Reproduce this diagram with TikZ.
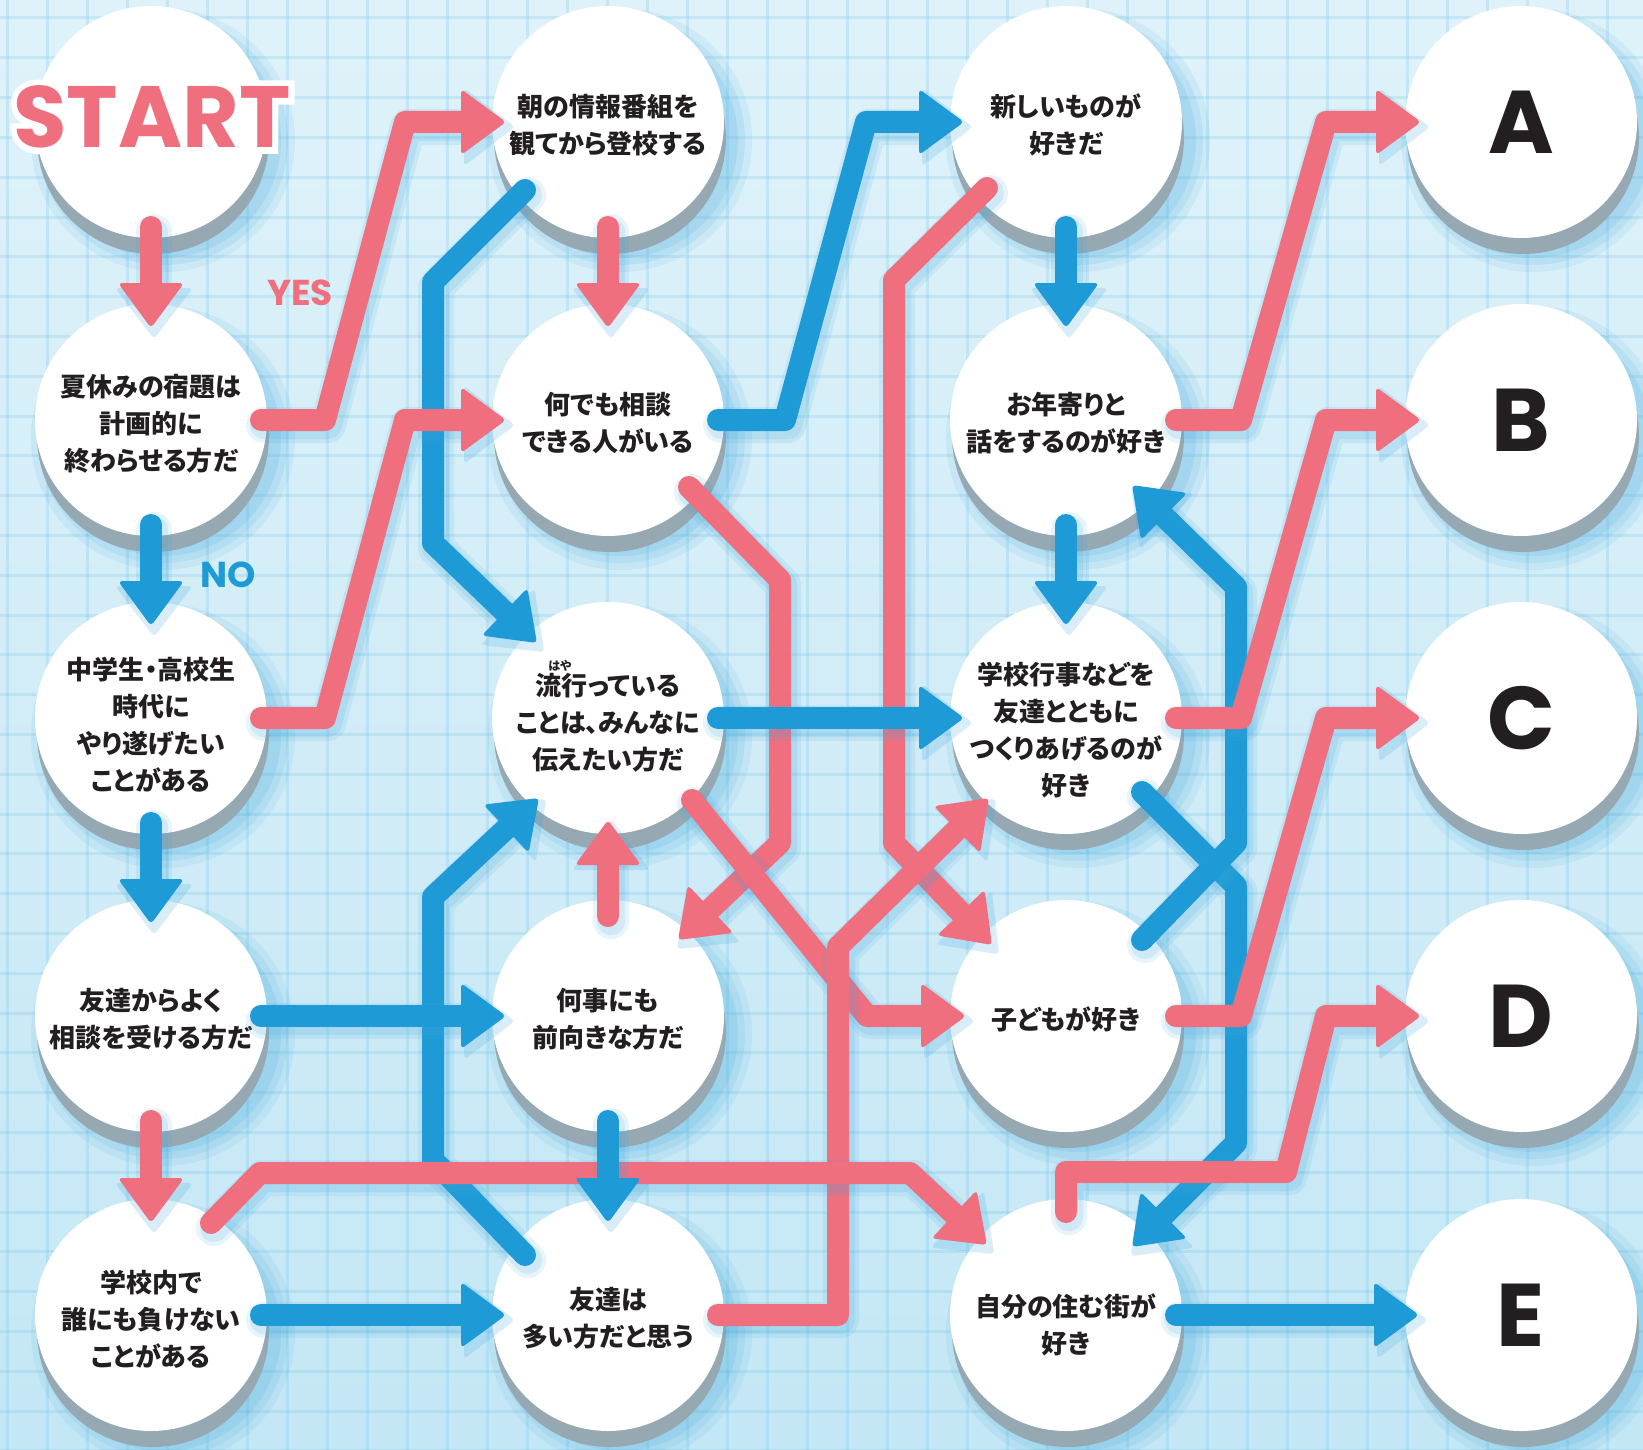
\documentclass[tikz,border=0pt]{standalone}
\usepackage{fontspec}
\newfontfamily\jp{Noto Sans CJK JP}[RawFeature=+palt]
\newfontfamily\pop{Poppins}
\newfontfamily\popw{Poppins}[FakeBold=14, BoldFeatures={FakeBold=14}]
\usetikzlibrary{calc}
\definecolor{pk}{HTML}{EF6F7F}
\definecolor{bl}{HTML}{1E9BD6}
\definecolor{sh}{HTML}{96A8B2}
\definecolor{ink}{HTML}{231F20}
\definecolor{bgtop}{HTML}{DFF2F9}
\definecolor{bgbot}{HTML}{C4E7F5}
\definecolor{gridc}{HTML}{6BC0E8}
\definecolor{glowc}{HTML}{3FA8DE}
\pgfdeclarelayer{bgl}
\pgfdeclarelayer{glowl}
\pgfdeclarelayer{shadowl}
\pgfdeclarelayer{linesl}
\pgfsetlayers{bgl,glowl,shadowl,main,linesl}
\tikzset{
  bubble/.style={circle, fill=white, minimum size=232pt, inner sep=0pt},
  qtext/.style={inner sep=0pt, align=center, text=ink,
    font=\jp\bfseries\fontsize{26pt}{37pt}\selectfont},
  letter/.style={circle, fill=white, minimum size=232pt, inner sep=0pt, text=ink,
    font=\pop\bfseries\fontsize{89pt}{89pt}\selectfont},
  starttext/.style={inner sep=0pt, font=\pop\bfseries\fontsize{87pt}{87pt}\selectfont},
  startout/.style={inner sep=0pt, font=\popw\bfseries\fontsize{87pt}{87pt}\selectfont},
  yesno/.style={inner sep=0pt, font=\pop\bfseries\fontsize{36pt}{36pt}\selectfont},
  furi/.style={inner sep=0pt, text=ink, font=\jp\bfseries\fontsize{12pt}{12pt}\selectfont},
  conn/.style={line width=22pt, line cap=round, line join=round},
  gridline/.style={draw=gridc, line width=3pt, opacity=0.22},
}
% #1 colour, #2 path up to (not incl.) last corner, #3 last corner, #4 tip
\newcommand\arr[4]{%
  \coordinate (lc) at (#3);
  \coordinate (tt) at (#4);
  \coordinate (hb) at ($(tt)!45pt!(lc)$);
  \coordinate (hl) at ($(hb)!33pt!90:(tt)$);
  \coordinate (hr) at ($(hb)!33pt!-90:(tt)$);
  \begin{scope}[transform canvas={shift={(3pt,-5pt)}}]
    \draw[conn, draw=glowc, line width=36pt, opacity=0.12] #2 (lc) -- (hb);
    \draw[conn, draw=glowc, line width=28pt, opacity=0.14] #2 (lc) -- (hb);
    \fill[glowc, opacity=0.2, rounded corners=4pt] ($(tt)!-6pt!(hb)$) -- ($(hb)!39pt!90:(tt)$) -- ($(hb)!39pt!-90:(tt)$) -- cycle;
  \end{scope}
  \draw[conn, draw=#1] #2 (lc) -- (hb);
  \fill[#1, rounded corners=4pt] (tt) -- (hl) -- (hr) -- cycle;
}
\begin{document}
\begin{tikzpicture}[x=1pt, y=-1pt]
\useasboundingbox (0,0) rectangle (1643,1450);
\begin{pgfonlayer}{bgl}
  \shade[top color=bgtop, bottom color=bgbot] (0,0) rectangle (1643,1450);
  \foreach \i in {0,...,41} \draw[gridline] ({7+40*\i},0) -- ({7+40*\i},1450);
  \foreach \i in {0,...,36} \draw[gridline] (0,{18+39.8*\i}) -- (1643,{18+39.8*\i});
\end{pgfonlayer}

% circles
\node[bubble] (start) at (151,122) {};
\node[bubble] (q1) at (151,420) {};
\node[bubble] (q2) at (151,718) {};
\node[bubble] (q3) at (151,1016) {};
\node[bubble] (q4) at (151,1315) {};
\node[bubble] (m1) at (608,122) {};
\node[bubble] (m2) at (608,420) {};
\node[bubble] (m3) at (608,718) {};
\node[bubble] (m4) at (608,1016) {};
\node[bubble] (m5) at (608,1315) {};
\node[bubble] (r1) at (1066,122) {};
\node[bubble] (r2) at (1066,420) {};
\node[bubble] (r3) at (1066,718) {};
\node[bubble] (r4) at (1066,1016) {};
\node[bubble] (r5) at (1066,1315) {};
\node[letter] (A) at (1521,122) {A};
\node[letter] (B) at (1521,420) {B};
\node[letter] (C) at (1521,718) {C};
\node[letter] (D) at (1521,1016) {D};
\node[letter] (E) at (1521,1315) {E};

% texts
\node[qtext] (q1t) at ($(q1)+(0,4)$) {夏休みの宿題は\\計画的に\\終わらせる方だ};
\node[qtext] (q2t) at ($(q2)+(0,7)$) {中学生・高校生\\時代に\\やり遂げたい\\ことがある};
\node[qtext] (q3t) at ($(q3)+(0,3)$) {友達からよく\\相談を受ける方だ};
\node[qtext] (q4t) at ($(q4)+(0,4)$) {学校内で\\誰にも負けない\\ことがある};
\node[qtext] (m1t) at ($(m1)+(0,3)$) {朝の情報番組を\\観てから登校する};
\node[qtext] (m2t) at ($(m2)+(0,3)$) {何でも相談\\できる人がいる};
\node[qtext] (m3t) at ($(m3)+(0,5)$) {流行っている\\ことは、みんなに\\伝えたい方だ};
\node[qtext] (m4t) at ($(m4)+(0,3)$) {何事にも\\前向きな方だ};
\node[qtext] (m5t) at ($(m5)+(0,3)$) {友達は\\多い方だと思う};
\node[qtext] (r1t) at ($(r1)+(0,3)$) {新しいものが\\好きだ};
\node[qtext] (r2t) at ($(r2)+(0,3)$) {お年寄りと\\話をするのが好き};
\node[qtext] (r3t) at ($(r3)+(0,12)$) {学校行事などを\\友達とともに\\つくりあげるのが\\好き};
\node[qtext] (r4t) at ($(r4)+(0,3)$) {子どもが好き};
\node[qtext] (r5t) at ($(r5)+(0,10)$) {自分の住む街が\\好き};
\node[furi] (furi) at ($(m3)+(-48,-52)$) {はや};

\begin{pgfonlayer}{shadowl}
  \foreach \n in {start,q1,q2,q3,q4,m1,m2,m3,m4,m5,r1,r2,r3,r4,r5,A,B,C,D,E}
    \fill[sh] ($(\n)+(2,16)$) circle[radius=116pt];
\end{pgfonlayer}
\begin{pgfonlayer}{glowl}
  \foreach \n in {start,q1,q2,q3,q4,m1,m2,m3,m4,m5,r1,r2,r3,r4,r5,A,B,C,D,E}
    \foreach \r/\o in {132/0.10,125/0.12,118/0.15}
      \fill[glowc, opacity=\o] ($(\n)+(12,18)$) circle[radius=\r pt];
\end{pgfonlayer}

% START label with white outline
\node[startout, text=white] (startout) at ($(start)+(1,-5)$) {START};
\node[starttext, text=pk] (startlbl) at ($(start)+(1,-5)$) {START};

\node[yesno, text=pk] (yes) at (300,293) {YES};
\node[yesno, text=bl] (no) at (228,575) {NO};

\begin{pgfonlayer}{linesl}
  % long pink lines between columns 2 and 3
  \arr{pk}{($(m2)+(81,67)$) -- ($(m2)+(172,160)$) --}{$(m4)+(172,-173)$}{$(m4)+(70,-76)$}
  \arr{pk}{($(r1)+(-79,66)$) -- ($(r1)+(-172,158)$) --}{$(r4)+(-172,-173)$}{$(r4)+(-74,-71)$}
  \arr{pk}{($(m3)+(84,82)$) --}{$(r4)+(-199,0)$}{$(r4)+(-100,0)$}
  \arr{pk}{($(m5)+(110,0)$) -- ($(m5)+(230,0)$) --}{$(m5)+(230,-368)$}{$(r3)+(-77,80)$}
  \arr{bl}{}{$(m3)+(110,0)$}{$(r3)+(-102,0)$}
  % columns 1 and 2
  \arr{pk}{}{$(start)+(0,105)$}{$(q1)+(0,-92)$}
  \arr{bl}{}{$(q1)+(0,105)$}{$(q2)+(0,-92)$}
  \arr{bl}{}{$(q2)+(0,105)$}{$(q3)+(0,-92)$}
  \arr{pk}{}{$(q3)+(0,105)$}{$(q4)+(0,-92)$}
  \arr{pk}{}{$(m1)+(0,105)$}{$(m2)+(0,-92)$}
  \arr{pk}{}{$(m4)+(0,-100)$}{$(m3)+(0,102)$}
  \arr{bl}{($(m1)+(-83,68)$) -- ($(m1)+(-175,160)$) --}{$(m2)+(-175,123)$}{$(m3)+(-71,-75)$}
  \arr{bl}{($(m5)+(-83,-60)$) -- ($(m5)+(-175,-155)$) --}{$(m4)+(-175,-119)$}{$(m3)+(-69,80)$}
  \arr{bl}{}{$(q3)+(110,0)$}{$(m4)+(-102,0)$}
  \arr{bl}{}{$(q4)+(110,0)$}{$(m5)+(-102,0)$}
  \arr{pk}{($(q1)+(110,0)$) -- ($(q1)+(174,0)$) --}{$(m1)+(-203,0)$}{$(m1)+(-102,0)$}
  \arr{pk}{($(q2)+(110,0)$) -- ($(q2)+(174,0)$) --}{$(m2)+(-203,0)$}{$(m2)+(-102,0)$}
  \arr{pk}{($(q4)+(60,-92)$) -- ($(q4)+(109,-142)$) --}{$(r5)+(-156,-142)$}{$(r5)+(-79,-70)$}
  \arr{bl}{}{$(m4)+(0,105)$}{$(m5)+(0,-92)$}
  \arr{bl}{($(m2)+(110,0)$) -- ($(m2)+(177,0)$) --}{$(r1)+(-200,0)$}{$(r1)+(-102,0)$}
  % columns 3 and 4
  \arr{bl}{}{$(r1)+(0,105)$}{$(r2)+(0,-92)$}
  \arr{bl}{}{$(r2)+(0,105)$}{$(r3)+(0,-92)$}
  \arr{bl}{($(r3)+(76,74)$) -- ($(r3)+(170,168)$) --}{$(r5)+(170,-172)$}{$(r5)+(66,-68)$}
  \arr{bl}{($(r4)+(76,-76)$) -- ($(r4)+(170,-173)$) --}{$(r2)+(170,167)$}{$(r2)+(66,65)$}
  \arr{pk}{($(r2)+(110,0)$) -- ($(r2)+(175,0)$) --}{$(A)+(-195,0)$}{$(A)+(-100,0)$}
  \arr{pk}{($(r3)+(110,0)$) -- ($(r3)+(175,0)$) --}{$(B)+(-195,0)$}{$(B)+(-100,0)$}
  \arr{pk}{($(r4)+(110,0)$) -- ($(r4)+(175,0)$) --}{$(C)+(-195,0)$}{$(C)+(-100,0)$}
  \arr{pk}{($(r5)+(0,-103)$) -- ($(r5)+(0,-143)$) -- ($(r5)+(220,-143)$) --}{$(D)+(-195,0)$}{$(D)+(-100,0)$}
  \arr{bl}{}{$(r5)+(110,0)$}{$(E)+(-102,0)$}
\end{pgfonlayer}
\end{tikzpicture}
\end{document}
